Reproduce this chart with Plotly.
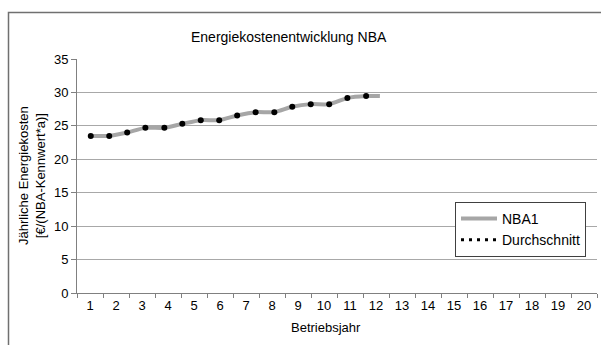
import plotly.graph_objects as go

# Data
years = list(range(1, 21))
tick_labels = [str(y) for y in years]

# NBA1 line (x in Betriebsjahr units, values in €/(NBA-Kennwert*a))
nba1_x = [1.03, 1.74, 2.43, 3.13, 3.86, 4.55, 5.26, 5.97, 6.66, 7.37, 8.09, 8.78,
          9.49, 10.20, 10.90, 11.62, 12.15]
nba1_y = [23.5, 23.5, 24.0, 24.7, 24.7, 25.3, 25.85, 25.85, 26.55, 27.05, 27.05, 27.85,
          28.25, 28.25, 29.15, 29.45, 29.45]

# Durchschnitt points
avg_x = nba1_x[:16]
avg_y = nba1_y[:16]

FONT = "Liberation Sans, Arial, sans-serif"

fig = go.Figure()
fig.add_trace(go.Scatter(
    x=nba1_x, y=nba1_y, mode="lines", name="NBA1",
    line=dict(color="#a6a6a6", width=4, shape="spline", smoothing=0.8),
))
fig.add_trace(go.Scatter(
    x=avg_x, y=avg_y, mode="markers", name="Durchschnitt", showlegend=False,
    marker=dict(color="black", size=6),
))
fig.add_trace(go.Scatter(
    x=[None], y=[None], mode="lines", name="Durchschnitt",
    line=dict(color="black", width=3, dash="3px,5px"),
))

L, R, T, B = 77, 4, 59, 52
W, H = 601, 345
pw, ph = W - L - R, H - T - B

def px_x(p):
    return (p - L) / pw

def px_y(p):
    return (H - B - p) / ph

fig.update_layout(
    width=W, height=H,
    margin=dict(l=L, r=R, t=T, b=B),
    paper_bgcolor="white", plot_bgcolor="white",
    font=dict(family=FONT, size=13, color="black"),
    showlegend=True,
    legend=dict(
        x=px_x(455), y=px_y(229.5), xanchor="left", yanchor="middle",
        bgcolor="white", bordercolor="#404040", borderwidth=1,
        font=dict(size=14, family=FONT), tracegroupgap=0, itemwidth=36,
        traceorder="normal",
    ),
    xaxis=dict(
        range=[0.5, 20.5], tickvals=years, ticktext=tick_labels,
        ticks="", showgrid=False, zeroline=False,
        showline=True, linecolor="#808080", linewidth=1,
        tickfont=dict(size=13, family=FONT),
        minor=dict(ticks="outside", tick0=0.5, dtick=1, ticklen=4,
                   tickcolor="#808080", showgrid=False),
    ),
    yaxis=dict(
        range=[0, 35], dtick=5, showgrid=True, gridcolor="#a8a8a8", gridwidth=1,
        zeroline=False, showline=True, linecolor="#808080", linewidth=1,
        ticks="outside", ticklen=5, tickcolor="#808080",
        tickfont=dict(size=13, family=FONT),
    ),
    annotations=[
        dict(text="Energiekostenentwicklung NBA", x=px_x(289), y=px_y(37),
             xref="paper", yref="paper", showarrow=False,
             xanchor="center", yanchor="middle", font=dict(size=14, family=FONT)),
        dict(text="Betriebsjahr", x=px_x(326), y=px_y(327),
             xref="paper", yref="paper", showarrow=False,
             xanchor="center", yanchor="middle", font=dict(size=13, family=FONT)),
        dict(text="Jährliche Energiekosten<br>[€/(NBA-Kennwert*a)]", x=px_x(32), y=px_y(176),
             xref="paper", yref="paper", showarrow=False, textangle=-90,
             xanchor="center", yanchor="middle", font=dict(size=13, family=FONT)),
    ],
    shapes=[
        dict(type="rect", xref="paper", yref="paper",
             x0=px_x(8.5), x1=px_x(640), y0=px_y(400), y1=px_y(12.5),
             line=dict(color="#707070", width=1.5), fillcolor="rgba(0,0,0,0)",
             layer="below"),
    ],
)

fig.write_html("out.html", config={"displayModeBar": False},
               post_script="document.body.style.margin='0';document.body.style.overflow='hidden';")
